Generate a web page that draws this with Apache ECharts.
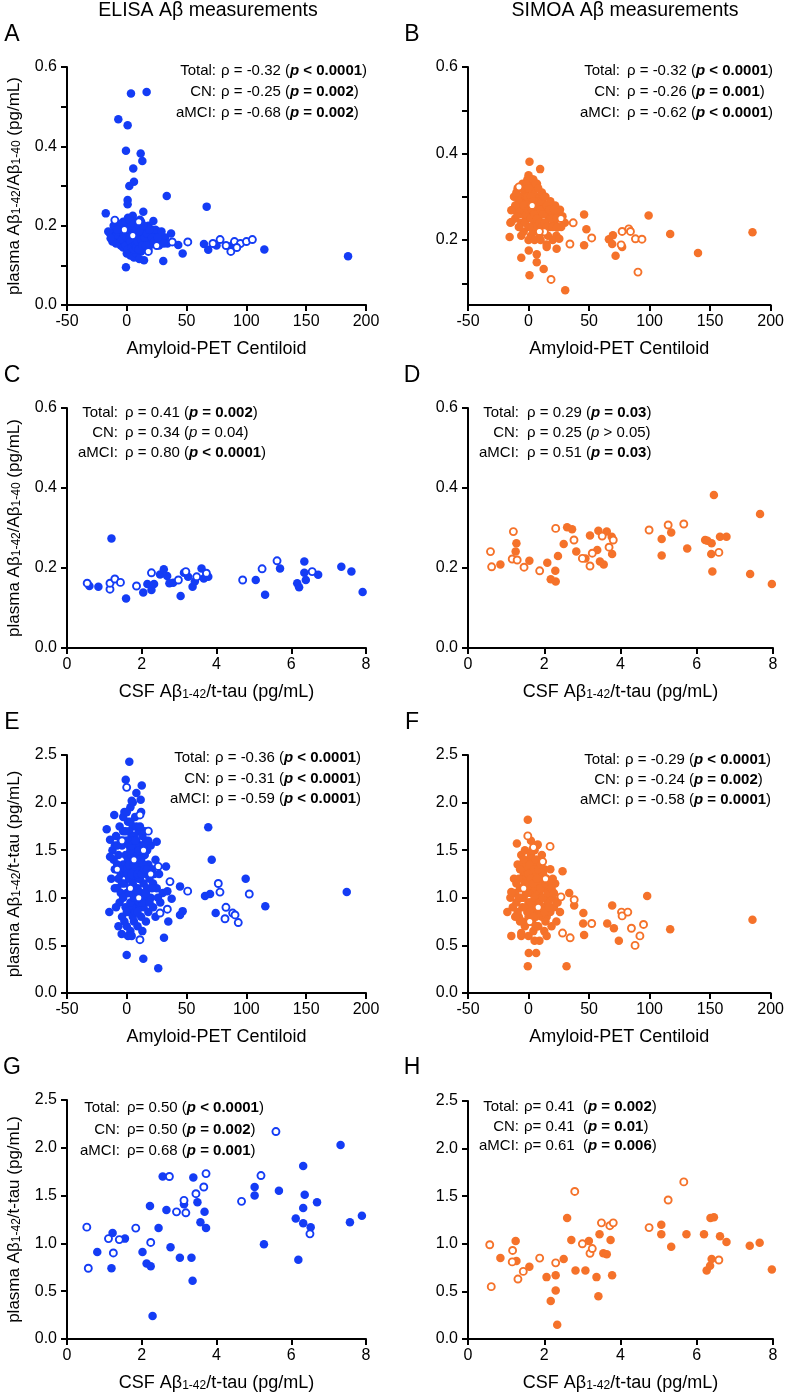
<!DOCTYPE html>
<html>
<head>
<meta charset="utf-8">
<script src="https://cdn.jsdelivr.net/npm/echarts/dist/echarts.min.js"></script>
<style>
  html, body { margin: 0; background: #fff; }
  #chart { width: 787px; height: 1394px; }
</style>
</head>
<body>
<div id="chart"></div>
<script>
// ---- data: [x, y] pairs ----
// A: ELISA ratio vs amyloid-PET centiloid
const panelAFilled = [
  [-14,0.18],[-12,0.17],[-10,0.19],[-8,0.16],[-7,0.2],[-6,0.175],[-5,0.15],[-4,0.19],[-3,0.21],[-2,0.165],
  [-1,0.18],[0,0.2],[0,0.155],[1,0.17],[1,0.22],[2,0.145],[2,0.19],[3,0.175],[3,0.205],[4,0.16],
  [4,0.185],[5,0.14],[5,0.2],[5,0.225],[6,0.17],[6,0.155],[7,0.19],[7,0.21],[8,0.165],[8,0.18],
  [9,0.145],[9,0.2],[10,0.175],[10,0.19],[11,0.16],[11,0.215],[12,0.18],[12,0.135],[13,0.2],[13,0.165],
  [14,0.17],[15,0.19],[15,0.15],[16,0.18],[17,0.16],[18,0.2],[18,0.14],[19,0.175],[20,0.165],[21,0.19],
  [22,0.155],[23,0.18],[24,0.17],[25,0.16],[26,0.185],[27,0.15],[28,0.175],[30,0.165],[32,0.17],[34,0.155],
  [-9,0.175],[-3,0.145],[0,0.13],[3,0.125],[6,0.12],[8,0.13],[-1,0.165],[2,0.18],[4,0.17],[6,0.19],
  [8,0.2],[10,0.155],[12,0.195],[14,0.185],[16,0.165],[20,0.18],[24,0.19],[0,0.185],[2,0.205],[-6,0.19],
  [7,0.16],[9,0.185],[11,0.17],[13,0.18],[17,0.195],[19,0.15],[22,0.17],[5,0.165],[3,0.15],[-2,0.2],
  [-11,0.2],[-9,0.155],[-7,0.185],[-5,0.205],[-4,0.165],[-3,0.18],[-1,0.21],[-1,0.15],[0,0.17],[1,0.19],
  [1,0.14],[2,0.165],[2,0.215],[3,0.19],[3,0.16],[4,0.2],[4,0.145],[5,0.18],[6,0.205],[6,0.14],
  [7,0.175],[7,0.15],[8,0.19],[8,0.145],[9,0.17],[9,0.16],[10,0.2],[10,0.14],[11,0.185],[12,0.165],
  [12,0.21],[13,0.15],[14,0.2],[15,0.17],[16,0.15],[17,0.18],[19,0.19],[21,0.17],[23,0.16],[26,0.17],
  [29,0.185],[31,0.155],[-8,0.19],[-12,0.16],
  [3.5,0.533],[16.6,0.537],[-7.1,0.468],[0.7,0.453],[-0.7,0.389],[11.6,0.382],[13,0.363],[5.4,0.344],
  [6,0.311],[2.1,0.3],[33.4,0.275],[0.7,0.265],[0.7,0.254],[13.8,0.235],[-17.6,0.231],[66.8,0.248],
  [22.2,0.212],[-0.7,0.095],[30.5,0.111],[46.7,0.13],[14.4,0.113],[10.5,0.116],[43,0.151],[37,0.18],
  [-15.5,0.185],[-13.5,0.168],[64.5,0.154],[68.1,0.139],[75,0.15],[88,0.15],[115,0.14],[185,0.123]
];
const panelAOpen = [
  [-10,0.214],[-2,0.19],[18,0.135],[25,0.15],[38,0.159],[51,0.159],[10,0.21],[5,0.175],
  [72,0.155],[78,0.165],[83,0.15],[87,0.135],[90,0.16],[95,0.155],[100,0.16],[105,0.165],[92,0.145]
];

// B: SIMOA ratio vs amyloid-PET centiloid
const panelBFilled = [
  [-12,0.3],[-10,0.28],[-9,0.32],[-8,0.26],[-7,0.3],[-6,0.24],[-5,0.33],[-5,0.27],[-4,0.22],[-3,0.29],
  [-3,0.31],[-2,0.25],[-1,0.34],[-1,0.27],[0,0.3],[0,0.23],[0,0.35],[1,0.26],[1,0.32],[2,0.28],
  [2,0.21],[3,0.34],[3,0.25],[3,0.3],[4,0.27],[4,0.22],[5,0.32],[5,0.29],[5,0.24],[6,0.26],
  [6,0.3],[7,0.28],[7,0.23],[7,0.33],[8,0.25],[8,0.3],[9,0.27],[9,0.21],[10,0.29],[10,0.24],
  [11,0.31],[11,0.26],[12,0.28],[12,0.22],[13,0.27],[14,0.3],[14,0.24],[15,0.26],[16,0.28],[16,0.21],
  [17,0.25],[18,0.29],[18,0.23],[19,0.27],[20,0.26],[21,0.24],[22,0.28],[23,0.21],[24,0.26],[25,0.25],
  [26,0.27],[28,0.255],[30,0.24],[-11,0.25],[-8,0.29],[-4,0.26],[-2,0.3],[1,0.29],[2,0.33],[4,0.31],
  [6,0.23],[8,0.27],[10,0.26],[12,0.3],[14,0.27],[-6,0.21],[0,0.2],[5,0.2],[10,0.2],[15,0.19],
  [20,0.2],[-13,0.27],[-15,0.24],
  [-10,0.31],[-9,0.26],[-7,0.27],[-6,0.32],[-4,0.28],[-3,0.24],[-2,0.33],[-1,0.3],[0,0.27],[0,0.32],
  [1,0.23],[2,0.3],[2,0.25],[3,0.27],[4,0.29],[4,0.34],[5,0.26],[6,0.28],[6,0.33],[7,0.25],
  [8,0.32],[9,0.29],[9,0.24],[10,0.27],[11,0.23],[11,0.29],[12,0.26],[13,0.24],[13,0.3],[15,0.28],
  [15,0.23],[17,0.27],[19,0.25],[21,0.27],[23,0.25],[-8,0.23],[-11,0.28],[20,0.23],[24,0.23],[27,0.23],
  [0.8,0.381],[9.6,0.364],[45.9,0.259],[47.8,0.225],[45.9,0.188],[25.4,0.203],[23.2,0.18],[30.3,0.084],
  [12.5,0.133],[0.8,0.119],[-6,0.159],[0.2,0.176],[6.8,0.167],[6.8,0.149],[-15.6,0.207],[-14.2,0.242],
  [-14.2,0.269],[15,0.184],[23.5,0.229],[99.2,0.257],[66.4,0.202],[69.7,0.211],[69.1,0.191],[71.9,0.164],
  [77.3,0.184],[117,0.214],[140,0.17],[185,0.218]
];
const panelBOpen = [
  [-7.9,0.323],[26.8,0.25],[36.9,0.24],[52.2,0.205],[34.2,0.191],[13.1,0.219],[18.6,0.109],[90.4,0.126],
  [77.3,0.22],[76.5,0.189],[82.8,0.226],[84.2,0.22],[88.3,0.203],[93.7,0.202],[3,0.28],[9,0.22]
];

// C: ELISA ratio vs CSF ratio
const panelCFilled = [
  [0.60,0.155],[0.84,0.153],[1.19,0.274],[1.58,0.124],[2.04,0.139],[2.15,0.16],[2.26,0.145],[2.33,0.16],
  [2.49,0.184],[2.59,0.197],[2.68,0.18],[2.74,0.162],[2.84,0.163],[3.04,0.13],[3.13,0.188],[3.24,0.178],
  [3.36,0.153],[3.42,0.166],[3.60,0.199],[3.66,0.174],[3.78,0.178],[5.05,0.17],[5.30,0.133],[5.70,0.199],
  [6.16,0.162],[6.21,0.152],[6.35,0.216],[6.35,0.188],[6.39,0.17],[6.72,0.183],[7.34,0.203],[7.61,0.191],
  [7.91,0.14]
];
const panelCOpen = [
  [0.54,0.162],[1.15,0.147],[1.15,0.162],[1.28,0.1725],[1.43,0.164],[1.86,0.155],[2.26,0.188],[2.98,0.17],
  [3.18,0.191],[3.47,0.178],[3.73,0.187],[4.70,0.17],[5.22,0.198],[5.62,0.218],[6.56,0.191]
];

// D: SIMOA ratio vs CSF ratio
const panelDFilled = [
  [0.85,0.209],[1.27,0.262],[1.25,0.241],[1.61,0.218],[2.08,0.213],[2.17,0.172],[2.29,0.193],[2.30,0.166],
  [2.36,0.23],[2.51,0.26],[2.60,0.302],[2.73,0.297],[2.84,0.241],[3.08,0.224],[3.20,0.281],[3.39,0.245],
  [3.42,0.293],[3.46,0.216],[3.56,0.209],[3.64,0.291],[3.77,0.278],[3.78,0.235],[5.08,0.2725],[5.08,0.231],
  [5.33,0.289],[5.75,0.249],[6.22,0.27],[6.28,0.268],[6.39,0.262],[6.45,0.3825],[6.38,0.235],[6.41,0.191],
  [6.61,0.278],[6.78,0.278],[7.40,0.185],[7.66,0.335],[7.97,0.16]
];
const panelDOpen = [
  [0.59,0.241],[0.62,0.203],[1.19,0.291],[1.16,0.2225],[1.29,0.22],[1.47,0.202],[1.88,0.193],[2.30,0.299],
  [2.78,0.27],[3.00,0.224],[3.20,0.205],[3.26,0.237],[3.52,0.28],[3.70,0.252],[3.81,0.27],[4.75,0.295],
  [5.25,0.3075],[5.66,0.31],[6.58,0.239]
];

// E: ELISA ratio / t-tau vs amyloid-PET centiloid
const panelEFilled = [
  [-12,1.5],[-10,1.3],[-9,1.65],[-8,1.1],[-7,1.45],[-6,1.75],[-6,0.95],[-5,1.25],[-4,1.55],[-4,0.8],
  [-3,1.35],[-3,1.7],[-2,1.15],[-2,1.9],[-1,1.45],[-1,0.9],[0,1.6],[0,1.25],[0,0.7],[1,1.8],
  [1,1.4],[1,1.05],[2,1.55],[2,1.2],[2,0.85],[3,1.95],[3,1.35],[3,0.65],[4,1.65],[4,1.1],
  [4,1.45],[5,1.3],[5,0.95],[5,1.75],[6,1.5],[6,1.2],[6,0.75],[7,1.4],[7,1.0],[7,1.85],
  [8,1.6],[8,1.25],[8,0.9],[9,1.45],[9,1.1],[9,0.7],[10,1.35],[10,1.7],[10,0.95],[11,1.2],
  [11,1.55],[12,1.05],[12,1.4],[12,0.8],[13,1.3],[13,1.65],[14,1.15],[14,0.9],[15,1.45],[15,1.0],
  [16,1.25],[16,0.75],[17,1.5],[17,1.1],[18,1.35],[18,0.85],[19,1.2],[20,1.0],[20,1.55],[21,1.3],
  [22,0.9],[22,1.15],[24,1.4],[24,0.8],[25,1.1],[27,1.25],[28,0.95],[30,1.05],[-8,1.35],[-5,1.05],
  [-2,1.6],[0,1.05],[2,1.7],[4,0.9],[6,1.65],[8,1.05],[10,1.2],[12,1.55],[14,1.35],[16,1.6],
  [-10,1.55],[-7,1.2],[-1,1.3],[3,1.5],[5,1.15],[7,1.3],[9,1.55],[11,0.95],[13,0.65],[15,1.7],
  [1,0.6],[-3,1.0],
  [-13,1.2],[-11,1.4],[-9,0.9],[-8,1.55],[-6,1.3],[-5,1.6],[-4,1.15],[-3,1.85],[-2,0.75],[-1,1.7],
  [0,1.9],[0,0.85],[1,1.25],[1,1.6],[2,1.05],[2,1.35],[3,1.8],[3,0.95],[4,1.25],[4,1.55],
  [5,0.8],[5,1.6],[6,1.0],[6,1.35],[7,1.6],[7,0.85],[8,1.4],[8,1.75],[9,1.25],[9,0.85],
  [10,1.5],[10,1.05],[11,1.4],[11,1.75],[12,1.25],[13,0.95],[14,1.55],[15,1.3],[16,1.05],[17,1.3],
  [18,1.6],[19,0.95],[21,1.1],[23,1.25],[26,1.0],[-7,0.7],[-10,1.1],[12,1.9],[5,2.0],[8,2.1],
  [2.1,2.43],[-0.9,2.24],[12.5,2.18],[4.1,2.02],[11.6,2.03],[-10.5,1.87],[-16.8,1.72],[-14,1.61],
  [25,1.59],[32.8,1.33],[-14,1.43],[33.9,1.07],[44.5,1.12],[37.5,0.99],[-14.6,0.85],[34.7,0.75],
  [46.7,0.86],[44.5,0.82],[-4.3,0.62],[4.1,0.6],[31.1,0.58],[-0.1,0.4],[13.8,0.36],[26.3,0.26],
  [68.1,1.74],[71,1.4],[99.4,1.2],[65.4,1.02],[69.6,1.04],[183.9,1.06],[115.8,0.91],[74.3,0.84]
];
const panelEOpen = [
  [-0.1,2.16],[11,1.87],[18,1.7],[26.3,1.33],[36.1,1.17],[50.9,1.07],[33.9,0.88],[27.8,0.84],
  [11,0.56],[-8,1.3],[6,1.4],[14,1.5],[20,1.25],[3,1.1],[-4,1.6],[10,1.0],
  [76.5,1.15],[77.9,1.06],[102.4,1.04],[82.9,0.9],[88.5,0.84],[90.5,0.82],[82.1,0.78],[93.2,0.74]
];

// F: SIMOA ratio / t-tau vs amyloid-PET centiloid
const panelFFilled = [
  [-12,1.2],[-10,0.95],[-9,1.35],[-8,0.8],[-7,1.1],[-6,1.45],[-5,0.9],[-4,1.25],[-3,0.7],[-3,1.5],
  [-2,1.05],[-1,1.3],[-1,0.85],[0,1.15],[0,1.4],[0,0.6],[1,0.95],[1,1.25],[2,1.05],[2,0.75],
  [2,1.45],[3,1.2],[3,0.9],[4,1.35],[4,0.65],[5,1.1],[5,0.85],[5,1.5],[6,1.25],[6,0.95],
  [7,1.05],[7,0.7],[7,1.4],[8,1.15],[8,0.85],[9,1.3],[9,0.55],[10,1.0],[10,1.2],[11,0.8],
  [11,1.45],[12,1.1],[12,0.9],[13,1.3],[13,0.65],[14,1.0],[15,1.2],[15,0.8],[16,0.95],[17,1.1],
  [18,0.85],[18,1.3],[19,0.7],[20,1.0],[21,0.9],[22,1.15],[23,0.75],[24,0.95],[26,0.85],[-11,1.05],
  [-7,0.75],[-4,1.0],[-2,1.2],[1,1.1],[3,1.05],[4,0.95],[6,1.1],[8,1.0],[10,0.85],[12,1.25],
  [14,0.75],[16,1.15],[-8,1.2],[-5,1.35],[0,0.95],[3,1.35],[6,0.8],[9,1.05],[11,1.0],[13,1.1],
  [20,1.2],[-6,0.6],[5,0.55],[15,0.6],[-13,0.9],[-15,1.0],
  [-10,1.15],[-9,0.85],[-7,1.3],[-6,1.0],[-5,0.75],[-4,1.4],[-3,1.15],[-2,0.9],[-1,1.05],[0,1.25],
  [0,0.8],[1,1.35],[1,0.85],[2,1.2],[2,0.95],[3,1.5],[3,0.75],[4,1.15],[4,0.8],[5,1.0],
  [5,1.3],[6,1.4],[6,0.7],[7,1.2],[7,0.9],[8,1.3],[8,0.7],[9,0.95],[10,1.1],[10,1.35],
  [11,0.9],[12,1.0],[13,0.85],[14,1.15],[16,1.05],[17,0.9],[19,1.1],[21,1.05],[23,0.95],[-8,1.0],
  [-11,0.8],[2,1.6],[7,1.55],
  [-0.6,1.82],[-9.6,1.57],[7.6,1.56],[28.1,1.28],[33.6,1.05],[37.7,0.92],[-14.2,1.06],[-17.5,0.85],
  [45.3,0.84],[45.1,0.73],[45.9,0.61],[-14.2,0.6],[-6,0.63],[0.2,0.42],[6.3,0.42],[-0.6,0.28],
  [31.4,0.28],[69.1,0.92],[65,0.73],[70.5,0.68],[74.6,0.55],[98,1.02],[117,0.67],[185,0.77]
];
const panelFOpen = [
  [-0.6,1.65],[4.1,1.53],[17.8,1.54],[11.7,1.38],[26.8,1.01],[37.7,0.98],[52.2,0.73],[28.1,0.63],
  [34.4,0.58],[76.8,0.85],[77.3,0.81],[-4,1.1],[8,0.9],[14,1.2],[1,0.75],
  [82,0.85],[85,0.68],[88,0.5],[92,0.6],[95,0.72]
];

// G: ELISA ratio / t-tau vs CSF ratio
const panelGFilled = [
  [0.81,0.91],[1.19,0.74],[1.22,1.11],[1.55,1.05],[2.02,0.91],[2.13,0.79],[2.24,0.76],[2.22,1.39],
  [2.29,0.24],[2.45,1.16],[2.56,1.70],[2.66,1.35],[2.77,0.96],[3.02,0.85],[3.13,1.41],[3.33,0.85],
  [3.36,0.61],[3.38,1.69],[3.49,1.43],[3.57,1.22],[3.68,1.33],[3.72,1.16],[5.02,1.59],[5.02,1.50],
  [5.27,0.99],[5.67,1.55],[6.12,1.26],[6.19,0.83],[6.32,1.81],[6.36,1.51],[6.32,1.37],[6.32,1.21],
  [6.52,1.17],[6.69,1.43],[7.32,2.03],[7.57,1.22],[7.89,1.29]
];
const panelGOpen = [
  [0.53,1.17],[0.57,0.74],[1.11,1.05],[1.24,0.90],[1.40,1.04],[1.84,1.16],[2.24,1.01],[2.74,1.70],
  [2.93,1.33],[3.13,1.45],[3.18,1.32],[3.45,1.52],[3.66,1.59],[3.72,1.73],[4.67,1.44],[5.19,1.71],
  [5.59,2.17],[6.50,1.10]
];

// H: SIMOA ratio / t-tau vs CSF ratio
const panelHFilled = [
  [0.85,0.85],[1.25,1.03],[1.27,0.82],[1.61,0.76],[2.06,0.65],[2.17,0.40],[2.30,0.67],[2.30,0.51],
  [2.34,0.15],[2.51,0.84],[2.60,1.27],[2.71,1.04],[2.82,0.72],[3.08,0.72],[3.17,1.03],[3.37,0.65],
  [3.42,0.45],[3.45,1.10],[3.55,0.90],[3.64,0.89],[3.74,1.04],[3.78,0.67],[5.07,1.20],[5.07,1.10],
  [5.33,0.97],[5.73,1.10],[6.19,1.10],[6.26,0.72],[6.36,1.27],[6.45,1.28],[6.39,0.84],[6.35,0.77],
  [6.61,1.08],[6.78,1.02],[7.39,0.98],[7.65,1.01],[7.97,0.73]
];
const panelHOpen = [
  [0.57,0.99],[0.61,0.55],[1.17,0.93],[1.16,0.81],[1.31,0.63],[1.45,0.71],[1.88,0.85],[2.30,0.80],
  [2.80,1.55],[3.00,1.00],[3.20,0.90],[3.26,0.95],[3.50,1.22],[3.72,1.19],[3.81,1.22],[4.75,1.17],
  [5.25,1.46],[5.66,1.65],[6.58,0.83]
];

// tick values
const ratioTicksA = [0, 0.1, 0.2, 0.3, 0.4, 0.5, 0.6];
const ratioLabelsA = [0, 0.2, 0.4, 0.6];
const ratioTicksB = [0.1, 0.2, 0.3, 0.4, 0.5, 0.6];
const ratioLabelsB = [0.2, 0.4, 0.6];
const ratioTicksCD = [0, 0.2, 0.4, 0.6];
const tauTicks = [0, 0.5, 1.0, 1.5, 2.0, 2.5];

// stats text per panel: [group label, value text]
const statsA = [['Total:', 'ρ = -0.32 ({bi|p}{b| < 0.0001})'], ['CN:', 'ρ = -0.25 ({bi|p}{b| = 0.002})'], ['aMCI:', 'ρ = -0.68 ({bi|p}{b| = 0.002})']];
const statsB = [['Total:', 'ρ = -0.32 ({bi|p}{b| < 0.0001})'], ['CN:', 'ρ = -0.26 ({bi|p}{b| = 0.001})'], ['aMCI:', 'ρ = -0.62 ({bi|p}{b| < 0.0001})']];
const statsC = [['Total:', 'ρ = 0.41 ({bi|p}{b| = 0.002})'], ['CN:', 'ρ = 0.34 ({i|p} = 0.04)'], ['aMCI:', 'ρ = 0.80 ({bi|p}{b| < 0.0001})']];
const statsD = [['Total:', 'ρ = 0.29 ({bi|p}{b| = 0.03})'], ['CN:', 'ρ = 0.25 ({i|p} > 0.05)'], ['aMCI:', 'ρ = 0.51 ({bi|p}{b| = 0.03})']];
const statsE = [['Total:', 'ρ = -0.36 ({bi|p}{b| < 0.0001})'], ['CN:', 'ρ = -0.31 ({bi|p}{b| < 0.0001})'], ['aMCI:', 'ρ = -0.59 ({bi|p}{b| < 0.0001})']];
const statsF = [['Total:', 'ρ = -0.29 ({bi|p}{b| < 0.0001})'], ['CN:', 'ρ = -0.24 ({bi|p}{b| = 0.002})'], ['aMCI:', 'ρ = -0.58 ({bi|p}{b| = 0.0001})']];
const statsG = [['Total:', 'ρ= 0.50 ({bi|p}{b| < 0.0001})'], ['CN:', 'ρ= 0.50 ({bi|p}{b| = 0.002})'], ['aMCI:', 'ρ= 0.68 ({bi|p}{b| = 0.001})']];
const statsH = [['Total:', 'ρ= 0.41  ({bi|p}{b| = 0.002})'], ['CN:', 'ρ= 0.41  ({bi|p}{b| = 0.01})'], ['aMCI:', 'ρ= 0.61  ({bi|p}{b| = 0.006})']];

// ---- styling ----
const FONT = '"Liberation Sans", Arial, Helvetica, sans-serif';
const BLUE = '#143cf5';
const ORANGE = '#f5722a';
const NOTE_SIZE = 15;

const richSub = {
  sub: { fontSize: 12, fontFamily: FONT, color: '#000', verticalAlign: 'bottom' }
};

const chart = echarts.init(document.getElementById('chart'));

// grid boxes: left, top, width, height
const boxes = [
  [67, 67, 299, 238], [468, 67, 305, 238],
  [67, 408, 299, 240], [468, 408, 305, 240],
  [67, 755, 299, 238], [468, 755, 305, 238],
  [67, 1100, 299, 239], [468, 1101, 305, 238]
];

function xAxisFor(gi, min, max, step, name) {
  return {
    type: 'value', gridIndex: gi, min: min, max: max, interval: step,
    axisLine: { onZero: false, lineStyle: { color: '#000', width: 2 } },
    axisTick: { length: 6, lineStyle: { color: '#000', width: 2 } },
    splitLine: { show: false },
    axisLabel: { color: '#000', fontSize: 16, fontFamily: FONT, margin: 9 },
    name: name, nameLocation: 'middle', nameGap: 35,
    nameTextStyle: { color: '#000', fontSize: 18, fontFamily: FONT, rich: richSub }
  };
}

function yAxisFor(gi, min, max, ticks, labels, name) {
  return {
    type: 'value', gridIndex: gi, min: min, max: max,
    axisLine: { show: true, onZero: false, lineStyle: { color: '#000', width: 2 } },
    axisTick: { show: true, customValues: ticks, length: 6, lineStyle: { color: '#000', width: 2 } },
    splitLine: { show: false },
    axisLabel: {
      customValues: labels, color: '#000', fontSize: 16, fontFamily: FONT, margin: 10,
      formatter: function (v) { return Number(v).toFixed(1); }
    },
    name: name || '', nameLocation: 'middle', nameRotate: 90, nameGap: 44,
    nameTextStyle: { color: '#000', fontSize: 17, fontFamily: FONT, rich: richSub }
  };
}

const petName = 'Amyloid-PET Centiloid';
const csfName = 'CSF Aβ{sub|1-42}/t-tau (pg/mL)';
const ratioName = 'plasma Aβ{sub|1-42}/Aβ{sub|1-40} (pg/mL)';
const tauName = 'plasma Aβ{sub|1-42}/t-tau (pg/mL)';

const xAxes = [
  xAxisFor(0, -50, 200, 50, petName), xAxisFor(1, -50, 200, 50, petName),
  xAxisFor(2, 0, 8, 2, csfName), xAxisFor(3, 0, 8, 2, csfName),
  xAxisFor(4, -50, 200, 50, petName), xAxisFor(5, -50, 200, 50, petName),
  xAxisFor(6, 0, 8, 2, csfName), xAxisFor(7, 0, 8, 2, csfName)
];
const yAxes = [
  yAxisFor(0, 0, 0.6, ratioTicksA, ratioLabelsA, ratioName),
  yAxisFor(1, 0.05, 0.6, ratioTicksB, ratioLabelsB, ''),
  yAxisFor(2, 0, 0.6, ratioTicksCD, ratioTicksCD, ratioName),
  yAxisFor(3, 0, 0.6, ratioTicksCD, ratioTicksCD, ''),
  yAxisFor(4, 0, 2.5, tauTicks, tauTicks, tauName),
  yAxisFor(5, 0, 2.5, tauTicks, tauTicks, ''),
  yAxisFor(6, 0, 2.5, tauTicks, tauTicks, tauName),
  yAxisFor(7, 0, 2.5, tauTicks, tauTicks, '')
];

const panels = [
  [panelAFilled, panelAOpen, BLUE], [panelBFilled, panelBOpen, ORANGE],
  [panelCFilled, panelCOpen, BLUE], [panelDFilled, panelDOpen, ORANGE],
  [panelEFilled, panelEOpen, BLUE], [panelFFilled, panelFOpen, ORANGE],
  [panelGFilled, panelGOpen, BLUE], [panelHFilled, panelHOpen, ORANGE]
];

const series = [];
panels.forEach(function (p, i) {
  // filled = CN, open = aMCI (open drawn on top)
  series.push({
    type: 'scatter', xAxisIndex: i, yAxisIndex: i, data: p[0],
    symbol: 'circle', symbolSize: 8.5, itemStyle: { color: p[2], opacity: 1 },
    emphasis: { disabled: true }, silent: true
  });
  series.push({
    type: 'scatter', xAxisIndex: i, yAxisIndex: i, data: p[1],
    symbol: 'circle', symbolSize: 7,
    itemStyle: { color: '#fff', borderColor: p[2], borderWidth: 1.9, opacity: 1 },
    emphasis: { disabled: true }, silent: true
  });
});

// ---- text overlays ----
const noteRich = {
  b: { fontFamily: FONT, fontSize: NOTE_SIZE, fontWeight: 'bold', color: '#000' },
  bi: { fontFamily: FONT, fontSize: NOTE_SIZE, fontWeight: 'bold', fontStyle: 'italic', color: '#000' },
  i: { fontFamily: FONT, fontSize: NOTE_SIZE, fontStyle: 'italic', color: '#000' }
};

function textEl(x, y, txt, align, size) {
  return {
    type: 'text', x: x, y: y, silent: true,
    style: {
      text: txt, fontFamily: FONT, fontSize: size, fill: '#000',
      align: align, verticalAlign: 'middle',
      textAlign: align, textVerticalAlign: 'middle', rich: noteRich
    }
  };
}

// colon x, value start x, first line y, line step
const noteSpots = [
  [statsA, 216, 221, 71, 21], [statsB, 620, 627, 71, 21],
  [statsC, 118, 125, 413, 20], [statsD, 519, 527, 413, 20],
  [statsE, 210, 215, 758, 20.5], [statsF, 620, 625, 760, 20],
  [statsG, 120, 127, 1108, 21.5], [statsH, 519, 524, 1107, 19.5]
];

const graphics = [];
noteSpots.forEach(function (n) {
  n[0].forEach(function (line, k) {
    const y = n[3] + k * n[4];
    graphics.push(textEl(n[1], y, line[0], 'right', NOTE_SIZE));
    graphics.push(textEl(n[2], y, line[1], 'left', NOTE_SIZE));
  });
});

const panelLetters = [['A', 12, 35], ['B', 412, 35], ['C', 12, 376], ['D', 412, 376],
                      ['E', 12, 723], ['F', 412, 723], ['G', 12, 1068], ['H', 412, 1068]];
panelLetters.forEach(function (l) {
  graphics.push(textEl(l[1], l[2], l[0], 'center', 23));
});
graphics.push(textEl(208, 11, 'ELISA Aβ measurements', 'center', 19.5));
graphics.push(textEl(625, 11, 'SIMOA Aβ measurements', 'center', 19.5));

chart.setOption({
  animation: false,
  backgroundColor: '#fff',
  grid: boxes.map(function (b) {
    return { left: b[0], top: b[1], width: b[2], height: b[3], containLabel: false };
  }),
  xAxis: xAxes,
  yAxis: yAxes,
  series: series,
  graphic: { elements: graphics }
});
</script>
</body>
</html>
